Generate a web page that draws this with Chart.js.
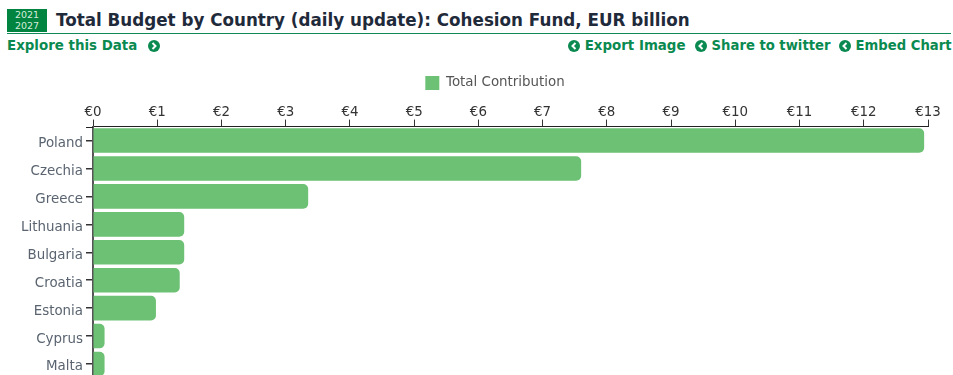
<!DOCTYPE html>
<html>
<head>
<meta charset="utf-8">
<script src="https://cdn.jsdelivr.net/npm/chart.js@4"></script>
<style>
  html, body { margin: 0; padding: 0; background: #fff; width: 953px; height: 375px; overflow: hidden; font-family: "DejaVu Sans", sans-serif; }
  #badge { position: absolute; left: 7px; top: 9px; width: 40px; height: 23px; background: #00843f; color: #d5ecdc; font-size: 9.5px; line-height: 11px; text-align: center; }
  #title { position: absolute; left: 56px; top: 10px; font-size: 16.75px; line-height: 20px; font-weight: bold; color: #1f2a3a; white-space: nowrap; }
  #rule { position: absolute; left: 7px; top: 33px; width: 944px; height: 1px; background: #128a58; }
  .link { position: absolute; top: 37px; font-size: 13.4px; line-height: 17px; font-weight: bold; color: #0a8a50; white-space: nowrap; }
  .link svg { vertical-align: -2px; }
  #wrap { position: absolute; left: 0; top: 50px; }
</style>
</head>
<body>
<div id="badge">2021<br>2027</div>
<div id="title">Total Budget by Country (daily update): Cohesion Fund, EUR billion</div>
<div id="rule"></div>
<div class="link" style="left:7px">Explore this Data <svg width="12" height="12" viewBox="0 0 12 12" style="margin-left:6px"><circle cx="6" cy="6" r="6" fill="#0a8a50"/><path d="M4.5 3 L7.5 6 L4.5 9" fill="none" stroke="#fff" stroke-width="2"/></svg></div>
<div class="link" style="left:568px"><svg width="12" height="12" viewBox="0 0 12 12"><circle cx="6" cy="6" r="6" fill="#0a8a50"/><path d="M7.5 3 L4.5 6 L7.5 9" fill="none" stroke="#fff" stroke-width="2"/></svg> Export Image</div>
<div class="link" style="left:695px;font-size:13.2px"><svg width="12" height="12" viewBox="0 0 12 12"><circle cx="6" cy="6" r="6" fill="#0a8a50"/><path d="M7.5 3 L4.5 6 L7.5 9" fill="none" stroke="#fff" stroke-width="2"/></svg> Share to twitter</div>
<div class="link" style="left:839px;font-size:13.2px"><svg width="12" height="12" viewBox="0 0 12 12"><circle cx="6" cy="6" r="6" fill="#0a8a50"/><path d="M7.5 3 L4.5 6 L7.5 9" fill="none" stroke="#fff" stroke-width="2"/></svg> Embed Chart</div>
<div id="wrap"><canvas id="chart" width="953" height="339"></canvas></div>
<script>
const countries = ["Poland", "Czechia", "Greece", "Lithuania", "Bulgaria", "Croatia", "Estonia", "Cyprus", "Malta"];
const contribution = [12.94, 7.6, 3.35, 1.42, 1.42, 1.35, 0.98, 0.18, 0.18];
const axisMax = 13;

Chart.defaults.font.family = '"DejaVu Sans", sans-serif';
Chart.defaults.font.size = 13.4;
Chart.defaults.color = "#555";

// legend is off centre in the original, and the axis line runs past the y axis
const nudge = {
  id: "nudge",
  afterLayout(chart) {
    chart.legend.left += 31;
    chart.legend.right += 31;
  },
  afterDraw(chart) {
    const { x, y } = chart.scales;
    const c = chart.ctx;
    c.save();
    c.strokeStyle = "#222";
    c.beginPath();
    c.moveTo(y.right - 7, Math.round(x.bottom) + 0.5);
    c.lineTo(y.right, Math.round(x.bottom) + 0.5);
    c.stroke();
    c.restore();
  },
};

new Chart(document.getElementById("chart"), {
  type: "bar",
  plugins: [nudge],
  data: {
    labels: countries,
    datasets: [
      {
        label: "Total Contribution",
        data: contribution,
        backgroundColor: "#6cc174",
        borderRadius: 5,
        categoryPercentage: 1,
        barPercentage: 0.88,
      },
    ],
  },
  options: {
    indexAxis: "y",
    responsive: false,
    animation: false,
    layout: { padding: { right: 25 } },
    plugins: {
      legend: {
        position: "top",
        labels: { boxWidth: 14, boxHeight: 14, padding: 26, color: "#555" },
      },
      tooltip: { enabled: false },
    },
    scales: {
      x: {
        position: "top",
        min: 0,
        max: axisMax,
        afterFit: (scale) => {
          scale.height += 5.5;
        },
        ticks: {
          stepSize: 1,
          padding: -1,
          color: "#333",
          callback: (v) => "€" + v,
        },
        grid: { drawOnChartArea: false, color: "#333", tickLength: 7 },
        border: { color: "#222", width: 1 },
      },
      y: {
        afterFit: (scale) => {
          scale.width = 93;
        },
        ticks: { color: "#5a6470", padding: 3, labelOffset: 3 },
        grid: { drawOnChartArea: false, color: "#333", lineWidth: 1.5, tickLength: 7, offset: false },
        border: { color: "#555", width: 2 },
      },
    },
  },
});
</script>
</body>
</html>
